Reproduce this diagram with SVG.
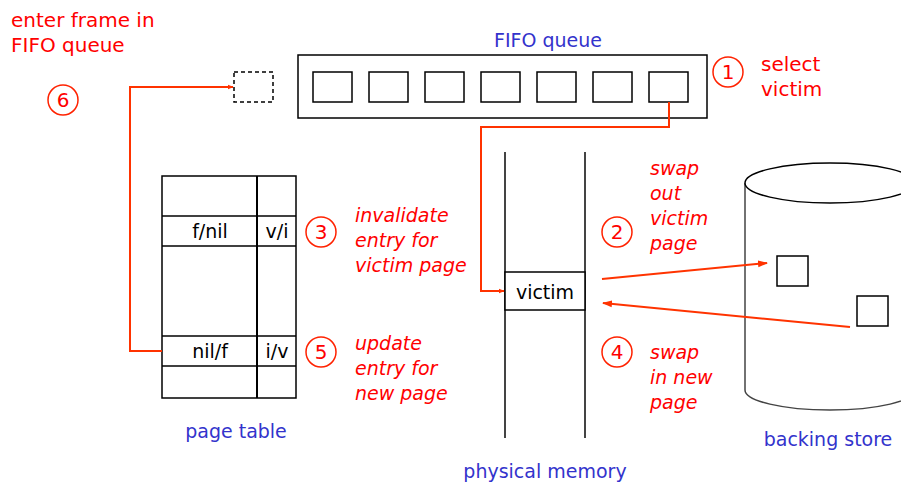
<svg xmlns="http://www.w3.org/2000/svg" width="901" height="484" viewBox="0 0 901 484">
<defs>
<style>
.red{fill:#ff0000;font-family:"DejaVu Sans",sans-serif;font-size:20px}
.it{font-style:italic;font-size:19px}
.blue{fill:#3333cc;font-family:"DejaVu Sans",sans-serif;font-size:19px}
.blk{fill:#000;font-family:"DejaVu Sans",sans-serif;font-size:19px}
.num{fill:#ff0000;font-family:"DejaVu Sans",sans-serif;font-size:20px;text-anchor:middle}
.circ{fill:none;stroke:#ff2200;stroke-width:1.5}
.box{fill:#fff;stroke:#000;stroke-width:1.5}
.wire{fill:none;stroke:#ff3300;stroke-width:2}
.mem{stroke:#444;stroke-width:2}
</style>
<marker id="ah" viewBox="0 0 10 10" refX="9" refY="5" markerWidth="6" markerHeight="6" orient="auto" markerUnits="userSpaceOnUse">
<path d="M0,1 L10,5 L0,9 Z" fill="#ff3300"/>
</marker>
<marker id="ah2" viewBox="0 0 10 10" refX="9" refY="5" markerWidth="10" markerHeight="10" orient="auto" markerUnits="userSpaceOnUse">
<path d="M0,1.5 L10,5 L0,8.5 Z" fill="#ff3300"/>
</marker>
</defs>
<rect width="901" height="484" fill="#fff"/>

<g id="label-enter">
<text class="red" x="11" y="27">enter frame in</text>
<text class="red" x="11" y="52">FIFO queue</text>
</g>
<g id="step6">
<circle class="circ" cx="63" cy="100" r="15"/>
<text class="num" x="63" y="107">6</text>
</g>
<g id="new-frame">
<rect x="234" y="72" width="39" height="30" fill="none" stroke="#000" stroke-width="1.5" stroke-dasharray="4,3"/>
</g>

<g id="fifo-queue">
<text class="blue" x="548" y="47" text-anchor="middle">FIFO queue</text>
<rect class="box" x="298" y="55" width="409" height="63"/>
<rect class="box" x="313" y="72" width="39" height="30"/>
<rect class="box" x="369" y="72" width="39" height="30"/>
<rect class="box" x="425" y="72" width="39" height="30"/>
<rect class="box" x="481" y="72" width="39" height="30"/>
<rect class="box" x="537" y="72" width="39" height="30"/>
<rect class="box" x="593" y="72" width="39" height="30"/>
<rect class="box" x="649" y="72" width="39" height="30"/>
</g>
<g id="step1">
<circle class="circ" cx="728" cy="72" r="15"/>
<text class="num" x="728" y="79">1</text>
<text class="red" x="761" y="71">select</text>
<text class="red" x="761" y="96">victim</text>
</g>

<g id="page-table">
<rect class="box" x="162" y="176" width="134" height="222"/>
<line x1="257" y1="176" x2="257" y2="398" stroke="#000" stroke-width="2"/>
<line x1="162" y1="216" x2="296" y2="216" stroke="#000" stroke-width="1.5"/>
<line x1="162" y1="246" x2="296" y2="246" stroke="#000" stroke-width="1.5"/>
<line x1="162" y1="336" x2="296" y2="336" stroke="#000" stroke-width="1.5"/>
<line x1="162" y1="366" x2="296" y2="366" stroke="#000" stroke-width="1.5"/>
<text class="blk" x="210" y="238" text-anchor="middle">f/nil</text>
<text class="blk" x="277" y="238" text-anchor="middle">v/i</text>
<text class="blk" x="210" y="358" text-anchor="middle">nil/f</text>
<text class="blk" x="277" y="358" text-anchor="middle">i/v</text>
<text class="blue" x="236" y="438" text-anchor="middle">page table</text>
</g>
<g id="step3">
<circle class="circ" cx="321" cy="232" r="15"/>
<text class="num" x="321" y="239">3</text>
<text class="red it" x="355" y="222">invalidate</text>
<text class="red it" x="355" y="247">entry for</text>
<text class="red it" x="355" y="272">victim page</text>
</g>
<g id="step5">
<circle class="circ" cx="321" cy="352" r="15"/>
<text class="num" x="321" y="359">5</text>
<text class="red it" x="355" y="350">update</text>
<text class="red it" x="355" y="375">entry for</text>
<text class="red it" x="355" y="400">new page</text>
</g>

<g id="physical-memory">
<line class="mem" x1="505" y1="152" x2="505" y2="438"/>
<line class="mem" x1="585" y1="152" x2="585" y2="438"/>
<rect class="box" x="505" y="272" width="80" height="38"/>
<text class="blk" x="545" y="299" text-anchor="middle">victim</text>
<text class="blue" x="545" y="478" text-anchor="middle">physical memory</text>
</g>
<g id="step2">
<circle class="circ" cx="617" cy="232" r="15"/>
<text class="num" x="617" y="239">2</text>
<text class="red it" x="650" y="175">swap</text>
<text class="red it" x="650" y="200">out</text>
<text class="red it" x="650" y="225">victim</text>
<text class="red it" x="650" y="250">page</text>
</g>
<g id="step4">
<circle class="circ" cx="617" cy="352" r="15"/>
<text class="num" x="617" y="359">4</text>
<text class="red it" x="650" y="359">swap</text>
<text class="red it" x="650" y="384">in new</text>
<text class="red it" x="650" y="409">page</text>
</g>

<g id="backing-store">
<path d="M745,183 L745,390 A85,20 0 0 0 915,390 L915,183" fill="#fff" stroke="#444" stroke-width="1.5"/>
<ellipse cx="830" cy="183" rx="85" ry="20" fill="#fff" stroke="#000" stroke-width="1.5"/>
<rect class="box" x="777" y="256" width="31" height="30"/>
<rect class="box" x="857" y="296" width="31" height="30"/>
<text class="blue" x="828" y="446" text-anchor="middle">backing store</text>
</g>

<g id="connectors">
<path class="wire" d="M162,351 L130,351 L130,87 L233,87" marker-end="url(#ah)"/>
<path class="wire" d="M669,102 L669,127 L481,127 L481,291 L504,291" marker-end="url(#ah)"/>
<line class="wire" x1="602" y1="279" x2="767" y2="263" marker-end="url(#ah2)"/>
<line class="wire" x1="850" y1="327" x2="603" y2="303" marker-end="url(#ah2)"/>
</g>
</svg>
